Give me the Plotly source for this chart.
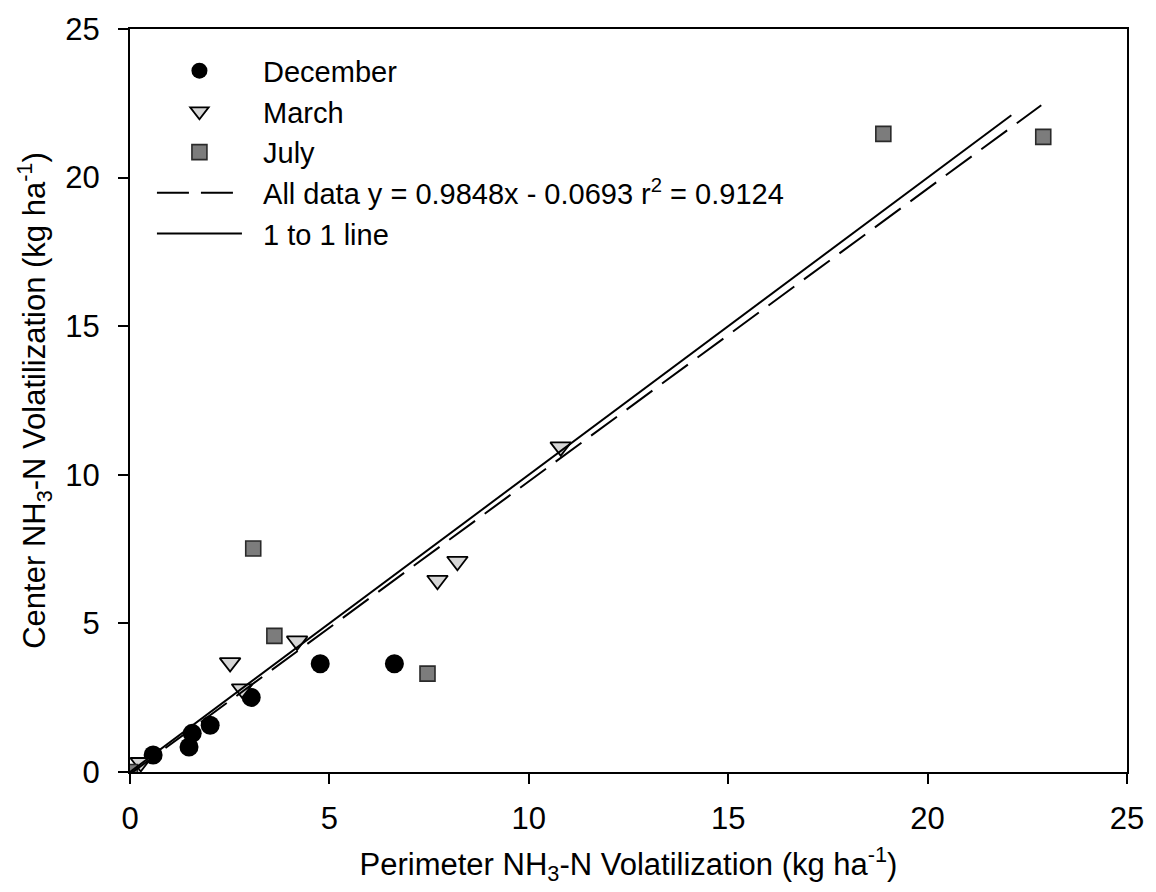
import plotly.graph_objects as go

# ---- data ----
dec_x = [0.58, 1.48, 1.56, 2.01, 3.04, 4.77, 6.63]
dec_y = [0.57, 0.84, 1.30, 1.57, 2.51, 3.64, 3.64]
mar_x = [0.27, 2.51, 2.81, 4.19, 7.71, 8.21, 10.80]
mar_y = [0.32, 3.68, 2.80, 4.41, 6.45, 7.09, 10.94]
jul_x = [0.00, 3.09, 3.62, 7.46, 18.89, 22.90]
jul_y = [0.00, 7.52, 4.58, 3.31, 21.47, 21.37]

fit_slope = 0.9848
fit_intercept = -0.0693
fit_x = [0.0, 22.85]
fit_y = [fit_slope * v + fit_intercept for v in fit_x]
one_x = [0.0, 22.1]
one_y = [0.0, 22.1]

ticks = [0, 5, 10, 15, 20, 25]

FONT = "Arial, Liberation Sans, sans-serif"
FS = 31
LFS = 29
PAD = "&nbsp;&nbsp;"

fig = go.Figure()
fig.add_trace(go.Scatter(
    x=dec_x, y=dec_y, mode="markers", name=PAD + "December", legendgroup="a",
    marker=dict(symbol="circle", size=19, color="black", line=dict(width=0)),
))
fig.add_trace(go.Scatter(
    x=mar_x, y=mar_y, mode="markers", name=PAD + "March", legendgroup="b",
    marker=dict(symbol="triangle-down", size=18, color="#d6d6d6",
                line=dict(color="black", width=1.8)),
))
fig.add_trace(go.Scatter(
    x=jul_x, y=jul_y, mode="markers", name=PAD + "July", legendgroup="c",
    marker=dict(symbol="square", size=15, color="#7c7c7c",
                line=dict(color="#2a2a2a", width=1.6)),
))
fig.add_trace(go.Scatter(
    x=fit_x, y=fit_y, mode="lines", legendgroup="d",
    name=PAD + "All data y = 0.9848x - 0.0693 r<sup>2</sup> = 0.9124",
    line=dict(color="black", width=2, dash="32px,12px"),
))
fig.add_trace(go.Scatter(
    x=one_x, y=one_y, mode="lines", name=PAD + "1 to 1 line", legendgroup="e",
    line=dict(color="black", width=2),
))

axis_common = dict(
    range=[0, 25], tickvals=ticks, ticktext=[str(t) for t in ticks],
    showline=True, linecolor="black", linewidth=2, mirror=True,
    ticks="outside", ticklen=10, tickwidth=2, tickcolor="black",
    showgrid=False, zeroline=False,
    tickfont=dict(family=FONT, size=FS, color="black"),
)

fig.update_layout(
    width=1156, height=892,
    margin=dict(l=130, r=26, t=24, b=120),
    paper_bgcolor="white", plot_bgcolor="white",
    font=dict(family=FONT, size=FS, color="black"),
    xaxis=dict(**axis_common,
               title=dict(text="Perimeter NH<sub>3</sub>-N Volatilization (kg ha<sup>-1</sup>)",
                          font=dict(family=FONT, size=FS, color="black"), standoff=18),
               ticklabelstandoff=8),
    yaxis=dict(**axis_common,
               title=dict(text="Center NH<sub>3</sub>-N Volatilization (kg ha<sup>-1</sup>)",
                          font=dict(family=FONT, size=FS, color="black"), standoff=10),
               ticklabelstandoff=12),
    showlegend=True,
    legend=dict(
        x=0.022, y=0.978, xanchor="left", yanchor="top",
        bgcolor="rgba(0,0,0,0)", borderwidth=0,
        font=dict(family=FONT, size=LFS, color="black"),
        itemwidth=85, tracegroupgap=0, traceorder="grouped",
    ),
)

fig.write_html("out.html")
